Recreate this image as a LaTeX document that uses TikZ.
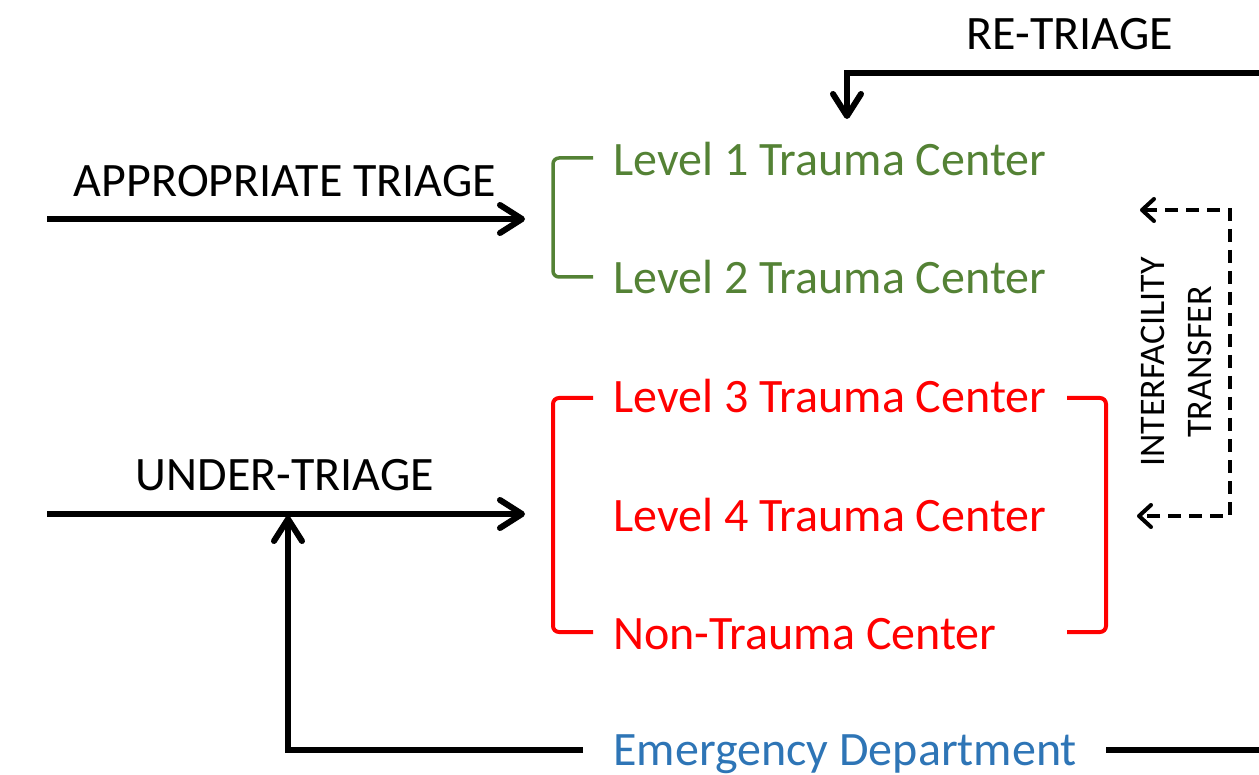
\documentclass[tikz,border=0pt]{standalone}
\usepackage{fontspec}
\setmainfont{Carlito}
\usetikzlibrary{arrows.meta}
\definecolor{lvlgreen}{RGB}{84,130,53}
\definecolor{lvlred}{RGB}{255,0,0}
\definecolor{edblue}{RGB}{46,117,182}
\tikzset{
  flow/.style={line width=3pt,-{Straight Barb[round,length=11pt,width=14pt]}},
  transfer/.style={line width=2pt,dash pattern=on 6.5pt off 4pt,{Straight Barb[round,length=6pt,width=11pt]}-{Straight Barb[round,length=6pt,width=11pt]}},
  bracket/.style={line width=2pt,rounded corners=3pt},
  label/.style={font=\fontsize{24}{29}\selectfont,inner sep=0pt},
  level/.style={label,anchor=base west},
}
\begin{document}
\begin{tikzpicture}[x=0.5pt,y=-0.5pt]
\useasboundingbox (0,0) rectangle (1259,775);

\node[label,anchor=base] (retriage) at (1070,50) {RE-TRIAGE};
\node[label,anchor=base] (approp) at (285,197) {APPROPRIATE TRIAGE};
\node[label,anchor=base] (under) at (285,490) {UNDER-TRIAGE};

\node[level,text=lvlgreen] (lv1) at (613,176) {Level 1 Trauma Center};
\node[level,text=lvlgreen] (lv2) at (613,294) {Level 2 Trauma Center};
\node[level,text=lvlred] (lv3) at (613,413) {Level 3 Trauma Center};
\node[level,text=lvlred] (lv4) at (613,531) {Level 4 Trauma Center};
\node[level,text=lvlred] (nontc) at (613,649) {Non-Trauma Center};
\node[level,text=edblue] (ed) at (613,765) {Emergency Department};

\node[font=\fontsize{18}{23.5}\selectfont,inner sep=0pt,align=center,rotate=90] (ift) at (1176,362) {INTERFACILITY\\TRANSFER};

\draw[bracket,lvlgreen,line width=1.75pt] (593,158) -- (553,158) -- (553,277) -- (593,277);
\draw[bracket,lvlred] (593,398) -- (553,398) -- (553,632) -- (593,632);
\draw[bracket,lvlred] (1067,398) -- (1106,398) -- (1106,632) -- (1067,632);

\coordinate (rtIn) at (1259,73);
\coordinate (rtOut) at (847,119);
\coordinate (apIn) at (47,219);
\coordinate (apOut) at (525,219);
\coordinate (utIn) at (47,514);
\coordinate (utOut) at (525,514);
\coordinate (edIn) at (583,750);
\coordinate (edOut) at (288,516);
\coordinate (edRight) at (1259,750);
\coordinate (ftTop) at (1140,210);
\coordinate (ftBot) at (1137,516);

\draw[flow] (rtIn) -| (rtOut);
\draw[flow] (apIn) -- (apOut);
\draw[flow] (utIn) -- (utOut);
\draw[flow] (edIn) -| (edOut);
\draw[line width=3pt] (1106,750) -- (edRight);
\draw[transfer] (ftTop) -- (1230,210) -- (1230,516) -- (ftBot);
\end{tikzpicture}
\end{document}
